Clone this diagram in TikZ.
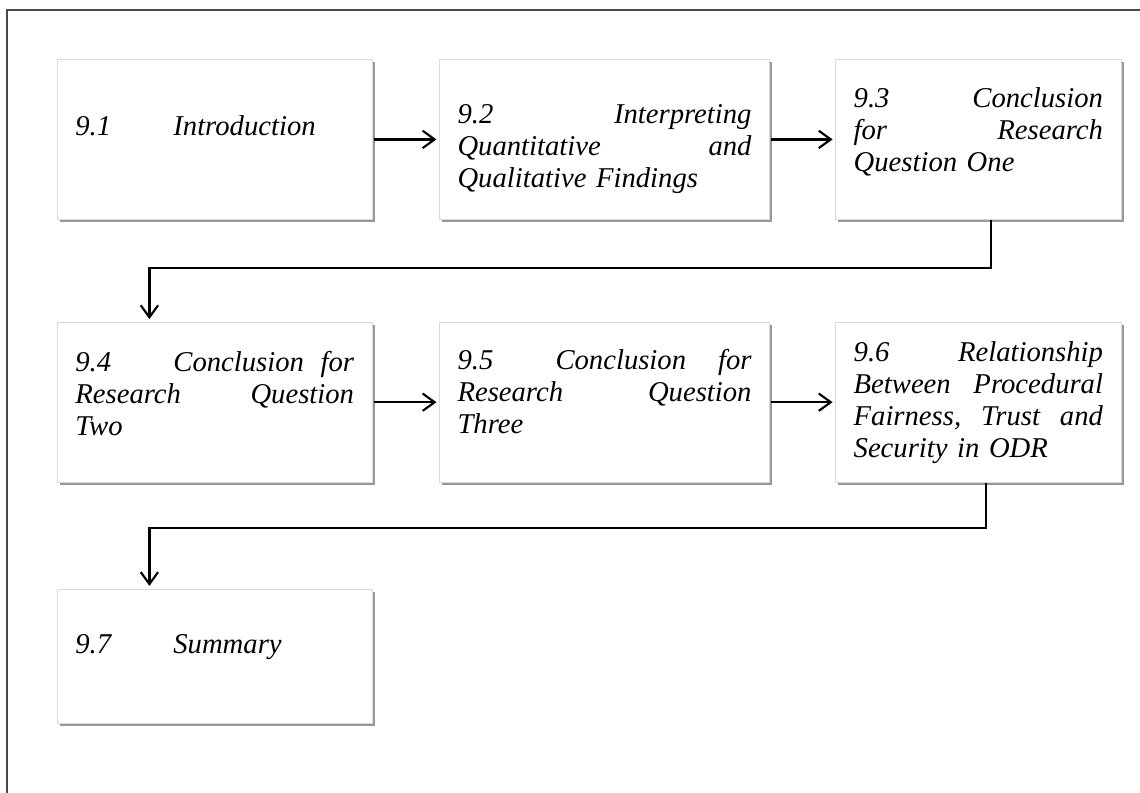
\documentclass[tikz,border=0pt]{standalone}
\usepackage{fontspec}
\setmainfont{Liberation Serif}
\usepackage{xcolor}
\usetikzlibrary{arrows.meta,positioning,calc,shadows}
\definecolor{inkP}{HTML}{000000}
\definecolor{frameL}{HTML}{4A4A4A}
\definecolor{boxL}{HTML}{DADADA}
\definecolor{shadeL}{HTML}{8C8C8C}
\newcommand{\secno}[1]{\makebox[73.5pt][l]{#1}}
\newcommand{\padlow}[1]{\rule[-#1]{0pt}{0pt}}
\newcommand{\padtop}[1]{\rule{0pt}{#1}}
\tikzset{
  secbox/.style={draw=boxL, fill=white, line width=0.6pt,
                 inner xsep=13.5pt, inner ysep=0pt, text width=#1,
                 minimum height=120pt, align=left, text=inkP,
                 font=\fontsize{21.5}{24}\selectfont\itshape,
                 drop shadow={shadow xshift=2pt, shadow yshift=-2pt,
                              fill=shadeL, opacity=0.9}},
  flow/.style={-{Straight Barb[length=9pt, width=13pt, line width=1.6pt]},
               line width=1.7pt, color=inkP, shorten <=1pt, shorten >=2pt},
}

\begin{document}
\begin{tikzpicture}
  \useasboundingbox (0,0) rectangle (855pt,-594.75pt);
  % outer frame (top and left only)
  \draw[frameL, line width=0.8pt] (855pt,-7.5pt) -- (5.25pt,-7.5pt) -- (5.25pt,-594.75pt);

  % first row
  \node[secbox=209pt, anchor=north west] (s1) at (42.75pt,-44.25pt)
    {\secno{9.1}Introduction\padlow{21pt}};
  \node[secbox=220.5pt, right=50pt of s1] (s2)
    {\padtop{28pt}9.2\hfill Interpreting\\ Quantitative\hfill and\\ Qualitative Findings};
  \node[secbox=187pt, right=49pt of s2] (s3)
    {9.3\hfill Conclusion\\ for\hfill Research\\ Question One\padlow{15pt}};

  % second row
  \node[secbox=209pt, below=76.5pt of s1] (s4)
    {\secno{9.4}Conclusion\hfill for\\ Research\hfill Question\\ Two\padlow{13pt}};
  \node[secbox=220.5pt, right=50pt of s4] (s5)
    {\secno{9.5}Conclusion\hfill for\\ Research\hfill Question\\ Three\padlow{16pt}};
  \node[secbox=187pt, right=49pt of s5] (s6)
    {9.6\hfill Relationship\\ Between\hfill Procedural\\ Fairness,\hfill Trust\hfill and\\ Security in ODR};

  % third row
  \node[secbox=209pt, minimum height=101pt, below=79.5pt of s4] (s7)
    {\secno{9.7}Summary\padlow{19pt}};

  \draw[flow] (s1) -- (s2);
  \draw[flow] (s2) -- (s3);
  \draw[flow, shorten <=0pt] ([xshift=9.4pt]s3.south) -- ++(0,-36pt)
    -| ([xshift=-49pt]s4.north);
  \draw[flow] (s4) -- (s5);
  \draw[flow] (s5) -- (s6);
  \draw[flow, shorten <=0pt] ([xshift=6pt]s6.south) -- ++(0,-34pt)
    -| ([xshift=-49pt]s7.north);
\end{tikzpicture}
\end{document}
